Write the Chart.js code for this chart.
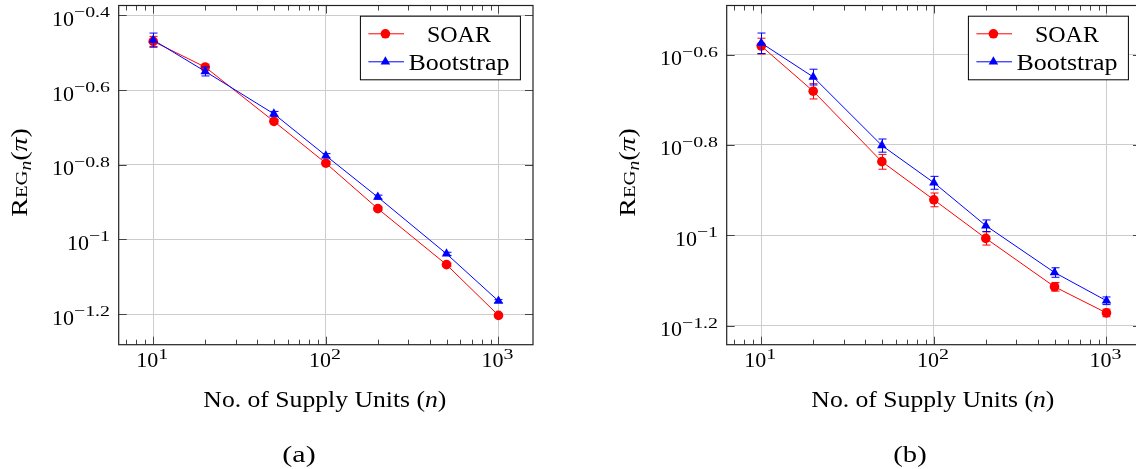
<!DOCTYPE html>
<html>
<head>
<meta charset="utf-8">
<script src="https://cdn.jsdelivr.net/npm/chart.js@4.4.0/dist/chart.umd.min.js"></script>
<style>
  body { margin: 0; width: 1136px; height: 469px; overflow: hidden; background: #fff; position: relative; }
  .panel { position: absolute; top: 0; width: 560px; height: 469px; }
</style>
</head>
<body>
<div class="panel" style="left:0"><canvas id="chartA" width="560" height="469"></canvas></div>
<div class="panel" style="left:608px"><canvas id="chartB" width="560" height="469"></canvas></div>
<script>
// x values (number of supply units)
const nUnits = [10, 20, 50, 100, 200, 500, 1000];
const xTickExp = [1, 2, 3];
const xRangeExp = [0.8, 3.2];

// panel (a)
const soarA    = [0.3392, 0.2894, 0.2071, 0.1600, 0.1209, 0.0856, 0.0626];
const soarErrA = [0.0105, 0.0053, 0.0025, 0.0016, 0.0011, 0.0008, 0.0005];
const bootA    = [0.3420, 0.2818, 0.2169, 0.1676, 0.1298, 0.0915, 0.0684];
const bootErrA = [0.0149, 0.0078, 0.0033, 0.0021, 0.0016, 0.0009, 0.0006];
const yTickExpA = [-0.4, -0.6, -0.8, -1, -1.2];
const yRangeExpA = [-1.2819, -0.3736];

// panel (b)
const soarB    = [0.2624, 0.2084, 0.1455, 0.1198, 0.0984, 0.0769, 0.0673];
const soarErrB = [0.0106, 0.0081, 0.0055, 0.0042, 0.0033, 0.0017, 0.0013];
const bootB    = [0.2664, 0.2241, 0.1580, 0.1307, 0.1050, 0.0827, 0.0716];
const bootErrB = [0.0139, 0.0090, 0.0053, 0.0043, 0.0031, 0.0020, 0.0014];
const yTickExpB = [-0.6, -0.8, -1, -1.2];
const yRangeExpB = [-1.2424, -0.4914];

const FONT = '"Liberation Serif", "Times New Roman", serif';
const fnt = (size, style) => (style ? style + ' ' : '') + size + 'px ' + FONT;
const RED = '#ff0000', BLUE = '#0000ff';

// draw a row of text pieces (for superscripts, small caps, italics)
function drawRuns(ctx, runs, x, y, align, fitW) {
  let w = 0;
  runs.forEach(r => { ctx.font = r.font; r.w = ctx.measureText(r.t).width * (r.sx || 1); w += r.w; });
  const k = fitW ? fitW / w : 1;
  let cx = align === 'center' ? x - w * k / 2 : align === 'right' ? x - w * k : x;
  ctx.textAlign = 'left';
  ctx.textBaseline = 'alphabetic';
  runs.forEach(r => {
    ctx.save();
    ctx.font = r.font;
    ctx.translate(cx, y + (r.dy || 0));
    ctx.scale((r.sx || 1) * k, 1);
    ctx.fillText(r.t, 0, 0);
    ctx.restore();
    cx += r.w * k;
  });
}

function expText(e) {
  return (e < 0 ? '\u2212' : '') + String(Math.abs(e));
}

function marker(ctx, style, x, y, r, color) {
  ctx.fillStyle = color;
  ctx.beginPath();
  if (style === 'circle') {
    ctx.arc(x, y, r, 0, Math.PI * 2);
  } else {
    for (let i = 0; i < 3; i++) {
      const a = i * 2 * Math.PI / 3;
      const px = x + Math.sin(a) * r, py = y - Math.cos(a) * r;
      if (i === 0) ctx.moveTo(px, py); else ctx.lineTo(px, py);
    }
    ctx.closePath();
  }
  ctx.fill();
}

const decor = {
  id: 'decor',
  afterDatasetDraw(chart, args) {
    const ds = chart.data.datasets[args.index];
    if (!ds.errors) return;
    const ctx = chart.ctx, xs = chart.scales.x, ys = chart.scales.y;
    ctx.save();
    ctx.strokeStyle = ds.borderColor;
    ctx.lineWidth = 1;
    ds.data.forEach((p, i) => {
      const px = Math.round(xs.getPixelForValue(p.x)) + 0.5;
      const t = ys.getPixelForValue(p.y + ds.errors[i]);
      const b = ys.getPixelForValue(p.y - ds.errors[i]);
      ctx.beginPath();
      ctx.moveTo(px, t); ctx.lineTo(px, b);
      ctx.moveTo(px - 4, t); ctx.lineTo(px + 4, t);
      ctx.moveTo(px - 4, b); ctx.lineTo(px + 4, b);
      ctx.stroke();
    });
    ctx.restore();
  },
  afterDraw(chart, args, opts) {
    const ctx = chart.ctx, a = chart.chartArea;
    const xs = chart.scales.x, ys = chart.scales.y;
    ctx.save();

    // tick marks (inside the frame)
    ctx.strokeStyle = '#444';
    ctx.lineWidth = 1;
    ctx.beginPath();
    for (let d = 0; d <= 3; d++) {
      for (let m = 1; m <= 9; m++) {
        const v = m * Math.pow(10, d);
        if (v < xs.min || v > xs.max) continue;
        const px = Math.round(xs.getPixelForValue(v)) + 0.5;
        const len = m === 1 ? 8 : 5;
        ctx.moveTo(px, a.bottom); ctx.lineTo(px, a.bottom - len);
        ctx.moveTo(px, a.top); ctx.lineTo(px, a.top + len);
      }
    }
    opts.yTicks.forEach(e => {
      const py = Math.round(ys.getPixelForValue(Math.pow(10, e))) + 0.5;
      ctx.moveTo(a.left, py); ctx.lineTo(a.left + 8, py);
      ctx.moveTo(a.right, py); ctx.lineTo(a.right - 8, py);
    });
    ctx.stroke();

    // frame
    ctx.strokeStyle = '#222';
    ctx.lineWidth = 1.2;
    ctx.strokeRect(a.left, a.top, a.right - a.left, a.bottom - a.top);

    ctx.fillStyle = '#000';
    // y tick labels
    opts.yTicks.forEach(e => {
      const py = ys.getPixelForValue(Math.pow(10, e));
      drawRuns(ctx, [
        { t: '10', font: fnt(22) },
        { t: expText(e), font: fnt(15.5), sx: 1.28, dy: -8.5 }
      ], a.left - 8.7, py + 10.5, 'right');
    });
    // x tick labels
    xTickExp.forEach(e => {
      const px = xs.getPixelForValue(Math.pow(10, e));
      drawRuns(ctx, [
        { t: '10', font: fnt(22) },
        { t: expText(e), font: fnt(15.5), sx: 1.28, dy: -8 }
      ], px - 1, a.bottom + 22.6, 'center');
    });

    // x axis title
    drawRuns(ctx, [
      { t: 'No. of Supply Units (', font: fnt(23) },
      { t: 'n', font: fnt(23, 'italic') },
      { t: ')', font: fnt(23) }
    ], (a.left + a.right) / 2 - 1, 406.7, 'center', 243);

    // y axis title
    ctx.save();
    ctx.translate(27, 172.4);
    ctx.rotate(-Math.PI / 2);
    drawRuns(ctx, [
      { t: 'R', font: fnt(23) },
      { t: 'EG', font: fnt(17) },
      { t: 'n', font: fnt(16, 'italic'), dy: 3.5 },
      { t: '(', font: fnt(23) },
      { t: '\u03c0', font: fnt(23, 'italic') },
      { t: ')', font: fnt(23) }
    ], 0, 0, 'center', 88.7);
    ctx.restore();

    // legend
    const bw = 160, bh = 63.6;
    const bx = a.right - 12.6 - bw, by = a.top + 10.7;
    ctx.fillStyle = '#fff';
    ctx.fillRect(bx, by, bw, bh);
    ctx.strokeStyle = '#000';
    ctx.lineWidth = 1;
    ctx.strokeRect(bx, by, bw, bh);
    const fits = [64, 101];
    chart.data.datasets.forEach((ds, i) => {
      const yy = by + 17.6 + 28 * i;
      ctx.strokeStyle = ds.borderColor;
      ctx.lineWidth = 1;
      ctx.beginPath();
      ctx.moveTo(bx + 8, yy); ctx.lineTo(bx + 43.6, yy);
      ctx.stroke();
      marker(ctx, ds.pointStyle, bx + 25, yy, ds.pointRadius, ds.borderColor);
      ctx.fillStyle = '#000';
      drawRuns(ctx, [{ t: ds.label, font: fnt(23) }], bx + 98.5, yy + 7.8, 'center', fits[i]);
    });

    // caption
    ctx.fillStyle = '#000';
    drawRuns(ctx, [{ t: opts.caption, font: fnt(24) }], opts.captionX, 462, 'center', 33.3);
    ctx.restore();
  }
};

function makeChart(id, soar, soarErr, boot, bootErr, yTicks, yRange, caption, captionX) {
  const pts = arr => nUnits.map((n, i) => ({ x: n, y: arr[i] }));
  return new Chart(document.getElementById(id), {
    type: 'line',
    data: {
      datasets: [
        {
          label: 'SOAR', data: pts(soar), errors: soarErr, order: 1,
          borderColor: RED, backgroundColor: RED, borderWidth: 1,
          pointStyle: 'circle', pointRadius: 4.8, pointBorderWidth: 0,
          pointBackgroundColor: RED, tension: 0
        },
        {
          label: 'Bootstrap', data: pts(boot), errors: bootErr, order: 0,
          borderColor: BLUE, backgroundColor: BLUE, borderWidth: 1,
          pointStyle: 'triangle', pointRadius: 5.5, pointBorderWidth: 0,
          pointBackgroundColor: BLUE, tension: 0
        }
      ]
    },
    options: {
      responsive: false,
      animation: false,
      events: [],
      layout: { padding: { top: 1, right: 27, bottom: 0, left: 0 } },
      plugins: {
        legend: { display: false },
        tooltip: { enabled: false },
        decor: { yTicks: yTicks, caption: caption, captionX: captionX }
      },
      scales: {
        x: {
          type: 'logarithmic',
          min: Math.pow(10, xRangeExp[0]),
          max: Math.pow(10, xRangeExp[1]),
          border: { display: false },
          grid: { color: '#cccccc', lineWidth: 1, drawTicks: false },
          ticks: { display: false },
          afterBuildTicks: s => { s.ticks = xTickExp.map(e => ({ value: Math.pow(10, e) })); },
          afterFit: s => { s.height = 469 - 344.7; }
        },
        y: {
          type: 'logarithmic',
          min: Math.pow(10, yRange[0]),
          max: Math.pow(10, yRange[1]),
          border: { display: false },
          grid: { color: '#cccccc', lineWidth: 1, drawTicks: false },
          ticks: { display: false },
          afterBuildTicks: s => { s.ticks = yTicks.map(e => ({ value: Math.pow(10, e) })); },
          afterFit: s => { s.width = 118.7; }
        }
      }
    },
    plugins: [decor]
  });
}

makeChart('chartA', soarA, soarErrA, bootA, bootErrA, yTickExpA, yRangeExpA, '(a)', 299);
makeChart('chartB', soarB, soarErrB, bootB, bootErrB, yTickExpB, yRangeExpB, '(b)', 302);
</script>
</body>
</html>
